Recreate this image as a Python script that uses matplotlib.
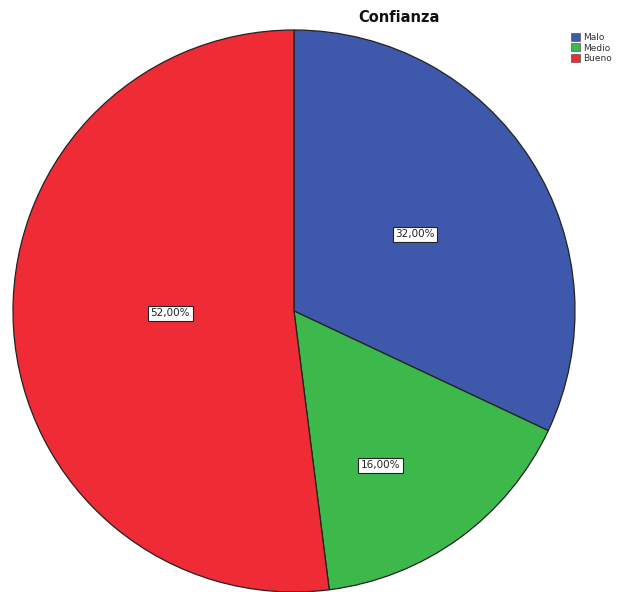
import numpy as np
import matplotlib.pyplot as plt
from matplotlib.patches import Patch

# data
categories = ['Malo', 'Medio', 'Bueno']
values = [32.0, 16.0, 52.0]
colors = ['#3e58ac', '#3cb94a', '#ef2b36']
label_dist = [0.51, 0.63, 0.44]
label_shift = [0.0, -6.7, -2.6]   # degrees, SPSS label placement

fig = plt.figure(figsize=(6.29, 5.92), dpi=100)
fig.patch.set_facecolor('white')
ax = fig.add_axes([13/629, 0.0, 562/629, 562/592])

wedges, _ = ax.pie(values, colors=colors, startangle=90, counterclock=False,
                   radius=1.0, wedgeprops=dict(edgecolor='#222222', linewidth=0.9))
ax.set_xlim(-1, 1)
ax.set_ylim(-1, 1)
ax.set_aspect('auto')
ax.axis('off')

for w, v, d, s in zip(wedges, values, label_dist, label_shift):
    ang = np.deg2rad((w.theta1 + w.theta2) / 2 + s)
    ax.text(d * np.cos(ang), d * np.sin(ang), f"{v:.2f}%".replace('.', ','),
            ha='center', va='center', fontsize=7.5, color='#222222',
            bbox=dict(boxstyle='square,pad=0.25', facecolor='white',
                      edgecolor='#222222', linewidth=0.8))

fig.text(399/629, 1 - 18/592, 'Confianza', ha='center', va='center',
         fontsize=10.5, fontweight='bold', color='#111111')

handles = [Patch(facecolor=c, edgecolor='#555555', linewidth=0.5) for c in colors]
leg = fig.legend(handles, categories, loc='upper left', bbox_to_anchor=(570/629, 1 - 32/592),
                 frameon=False, fontsize=6.5, handlelength=1.0, handleheight=1.0,
                 handletextpad=0.3, labelspacing=0.15, borderpad=0.1, borderaxespad=0)
for t in leg.get_texts():
    t.set_color('#333333')

fig.savefig('out.png', dpi=100, facecolor='white')
